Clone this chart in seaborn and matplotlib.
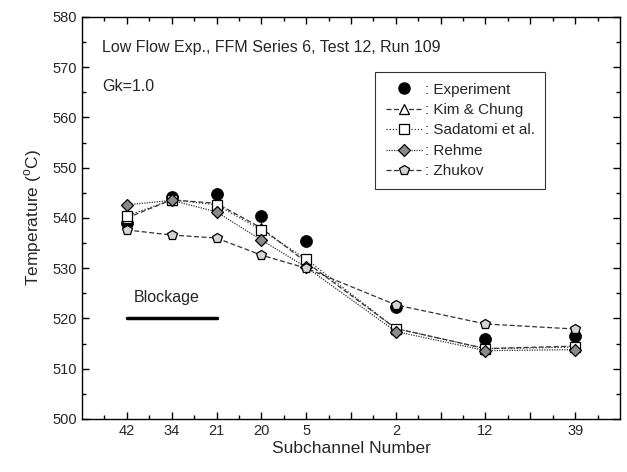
import matplotlib
matplotlib.use("Agg")
import matplotlib.pyplot as plt
import seaborn as sns
import numpy as np
import pandas as pd

# Subchannels along the traverse and their positions on the x axis
subchannels = ["42", "34", "21", "20", "5", "2", "12", "39"]
positions = [1, 2, 3, 4, 5, 7, 9, 11]

# Temperatures (deg C)
experiment = [539.0, 544.2, 544.8, 540.4, 535.4, 522.3, 515.9, 516.5]
kim_chung = [540.0, 543.6, 542.9, 538.0, 531.2, 518.0, 514.0, 514.5]
sadatomi = [540.4, 543.6, 542.6, 537.6, 531.8, 518.0, 514.0, 514.3]
rehme = [542.6, 543.5, 541.2, 535.6, 530.2, 517.4, 513.6, 513.8]
zhukov = [537.6, 536.6, 536.0, 532.6, 530.0, 522.7, 518.9, 517.9]

blockage_span = [1, 3]
blockage_temp = 520.0

sns.set_theme(style="ticks")
plt.rcParams["font.family"] = ["Liberation Sans", "DejaVu Sans"]
plt.rcParams["mathtext.fontset"] = "custom"
plt.rcParams["mathtext.rm"] = "Liberation Sans"

fig = plt.figure(figsize=(6.27, 4.72), dpi=100)
ax = fig.add_axes([0.1308, 0.1123, 0.858, 0.852])

models = [
    (": Kim & Chung", kim_chung, "^", "white", (0, (4, 2))),
    (": Sadatomi et al.", sadatomi, "s", "white", (0, (1, 1.5))),
    (": Rehme", rehme, "D", "#8a8a8a", (0, (1, 1))),
    (": Zhukov", zhukov, "p", "#d4d4d4", (0, (4, 2))),
]

handles = []
sns.scatterplot(x=positions, y=experiment, ax=ax, color="black", s=75,
                edgecolor="black", linewidth=0.5, zorder=3)
h_exp = plt.Line2D([], [], color="black", marker="o", linestyle="none",
                   markersize=8)
handles.append((h_exp, ": Experiment"))

for label, vals, mk, fc, ls in models:
    df = pd.DataFrame({"pos": positions, "temp": vals})
    ms = 6 if mk == "D" else 7
    sns.lineplot(data=df, x="pos", y="temp", ax=ax, color="#333333",
                 linewidth=0.9, linestyle=ls, marker=mk, markersize=ms,
                 markerfacecolor=fc, markeredgecolor="black",
                 markeredgewidth=0.9, zorder=4)
    h = plt.Line2D([], [], color="#333333", linewidth=0.9, linestyle=ls,
                   marker=mk, markersize=ms, markerfacecolor=fc,
                   markeredgecolor="black", markeredgewidth=0.9)
    handles.append((h, label))

# Blocked region marker
ax.plot(blockage_span, [blockage_temp, blockage_temp], color="black", linewidth=2.5)
ax.text(1.15, 523.2, "Blockage", fontsize=11.5)

ax.set_xlim(0, 12)
ax.set_ylim(500, 580)
ax.set_xticks(range(1, 12))
tick_labels = {p: s for p, s in zip(positions, subchannels)}
ax.set_xticklabels([tick_labels.get(i, "") for i in range(1, 12)])
ax.set_xticks(np.arange(0.5, 12, 1.0), minor=True)
ax.set_yticks(np.arange(500, 581, 10))
ax.set_yticks(np.arange(505, 580, 10), minor=True)
ax.tick_params(which="both", direction="in", top=True, right=True,
               labelsize=10.5, color="black", width=1.0)
ax.tick_params(which="major", length=5)
ax.tick_params(which="minor", length=3)
for sp in ax.spines.values():
    sp.set_color("black")
    sp.set_linewidth(1.0)

ax.set_xlabel("Subchannel Number", fontsize=12.5, labelpad=2)
ax.set_ylabel(r"Temperature ($^{\mathrm{o}}$C)", fontsize=12.5, labelpad=6)

ax.text(0.038, 0.923, "Low Flow Exp., FFM Series 6, Test 12, Run 109",
        transform=ax.transAxes, fontsize=11.5, va="center")
ax.text(0.038, 0.828, "Gk=1.0", transform=ax.transAxes, fontsize=11.5,
        va="center")

leg = ax.legend([h for h, _ in handles], [l for _, l in handles],
                loc="upper left", bbox_to_anchor=(0.545, 0.863), fontsize=11,
                frameon=True, fancybox=False, edgecolor="black",
                handlelength=2.4, handletextpad=0.15, labelspacing=0.42,
                borderpad=0.7, borderaxespad=0)
leg.get_frame().set_linewidth(0.8)

fig.savefig("out.png", dpi=100)
